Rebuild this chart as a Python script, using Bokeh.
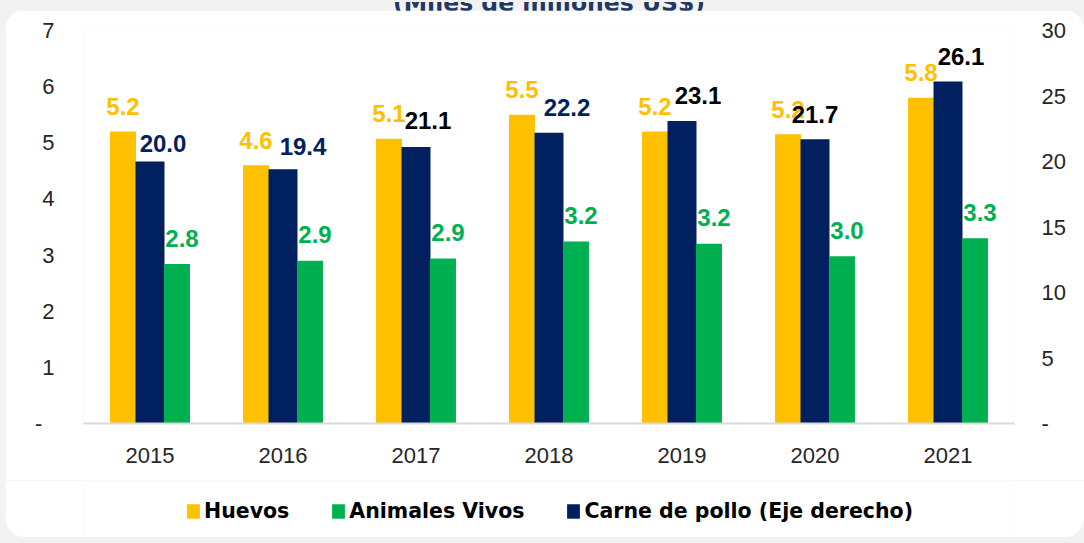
from bokeh.plotting import figure
from bokeh.models import (Range1d, FactorRange, LinearAxis, FixedTicker, Legend,
                          LegendItem, ColumnDataSource, Div)
from bokeh.layouts import column
from bokeh.transform import dodge
from bokeh.core.properties import value
from bokeh.embed import file_html
from bokeh.resources import INLINE

# ---- data ----
years = ["2015", "2016", "2017", "2018", "2019", "2020", "2021"]
huevos = [5.2, 4.6, 5.07, 5.5, 5.2, 5.15, 5.8]          # left axis
animales_vivos = [2.84, 2.9, 2.94, 3.24, 3.2, 2.98, 3.3]  # left axis
carne_pollo = [20.0, 19.4, 21.1, 22.2, 23.1, 21.7, 26.1]  # right axis
left_ticks = [0, 1, 2, 3, 4, 5, 6, 7]
right_ticks = [0, 5, 10, 15, 20, 25, 30]
title_text = "(Miles de millones US$)"
series_names = ["Huevos", "Animales Vivos", "Carne de pollo (Eje derecho)"]

# label styling (nudges in screen px, colours)
carne_label_dx = [13, 20, 12, 18, 16, 0, 13]
carne_label_dy = [-18, -23, -27, -25, -25, -25, -25]
carne_label_color = ["#002060", "#002060", "#000000", "#002060", "#000000", "#000000", "#000000"]

YELLOW = "#FFC000"
NAVY = "#002060"
GREEN = "#00B050"
PAGE_BG = "#F2F2F2"
TICK_COLOR = "#262626"

src = ColumnDataSource(dict(
    year=years,
    huevos=huevos,
    animales=animales_vivos,
    carne=carne_pollo,
    huevos_lbl=[f"{v:.1f}" for v in huevos],
    animales_lbl=[f"{v:.1f}" for v in animales_vivos],
    carne_lbl=[f"{v:.1f}" for v in carne_pollo],
    carne_dx=carne_label_dx,
    carne_dy=carne_label_dy,
    carne_col=carne_label_color,
))

# ---------------- main chart (top part of the white card) ----------------
p = figure(width=1079, height=470, x_range=FactorRange(*years),
           y_range=Range1d(0, 7), output_backend="svg", toolbar_location=None,
           min_border_left=78, min_border_right=70, min_border_top=20,
           min_border_bottom=57, margin=(0, 0, 0, 5),
           styles={"border-radius": "20px 20px 0 0", "overflow": "hidden"})
p.extra_y_ranges = {"right": Range1d(0, 30)}
p.outline_line_color = None
p.xgrid.visible = False
p.ygrid.visible = False
p.background_fill_color = "white"
p.border_fill_color = "white"

OFF = 0.203
r_h = p.vbar(x=dodge("year", -OFF, range=p.x_range), top="huevos", width=0.195,
             source=src, fill_color=YELLOW, line_color=None)
r_c = p.vbar(x=dodge("year", 0, range=p.x_range), top="carne", width=0.218,
             source=src, fill_color=NAVY, line_color=None, y_range_name="right")
r_a = p.vbar(x=dodge("year", OFF, range=p.x_range), top="animales", width=0.195,
             source=src, fill_color=GREEN, line_color=None)

LBL_FONT = value("Liberation Sans")
p.text(x=dodge("year", -OFF, range=p.x_range), y="huevos", text="huevos_lbl",
       source=src, text_align="center", text_baseline="middle", y_offset=-25,
       text_color=YELLOW, text_font=LBL_FONT, text_font_style="bold",
       text_font_size="24px")
p.text(x=dodge("year", OFF, range=p.x_range), y="animales", text="animales_lbl",
       source=src, text_align="center", text_baseline="middle", x_offset=5,
       y_offset=-26, text_color=GREEN, text_font=LBL_FONT,
       text_font_style="bold", text_font_size="24px")
p.text(x=dodge("year", 0, range=p.x_range), y="carne", text="carne_lbl",
       source=src, text_align="center", text_baseline="middle",
       x_offset="carne_dx", y_offset="carne_dy", text_color="carne_col",
       text_font=LBL_FONT, text_font_style="bold", text_font_size="24px",
       y_range_name="right")

# x axis
xa = p.xaxis[0]
xa.axis_line_color = "#D9D9D9"
xa.axis_line_width = 2
xa.major_tick_line_color = None
xa.minor_tick_line_color = None
xa.major_label_standoff = 18
xa.major_label_text_font = "Liberation Sans"
xa.major_label_text_font_size = "22px"
xa.major_label_text_color = TICK_COLOR

# left axis
ya = p.yaxis[0]
ya.ticker = FixedTicker(ticks=left_ticks)
ya.major_label_overrides = {0: "-\u00a0\u00a0"}
ya.axis_line_color = None
ya.major_tick_line_color = None
ya.minor_tick_line_color = None
ya.major_label_standoff = 23
ya.major_label_text_font = "Liberation Sans"
ya.major_label_text_font_size = "22px"
ya.major_label_text_color = TICK_COLOR

# right axis
ra = LinearAxis(y_range_name="right", ticker=FixedTicker(ticks=right_ticks))
ra.major_label_overrides = {0: "-"}
ra.axis_line_color = None
ra.major_tick_line_color = None
ra.minor_tick_line_color = None
ra.major_label_standoff = 21
ra.major_label_text_font = "Liberation Sans"
ra.major_label_text_font_size = "22px"
ra.major_label_text_color = TICK_COLOR
p.add_layout(ra, "right")

# ---------------- legend strip (bottom part of the white card) ----------------
# same series drawn into a view window that shows none of the bars;
# they only provide the legend swatches
pl = figure(width=1079, height=57, x_range=FactorRange(*years),
            y_range=Range1d(100, 101), output_backend="svg",
            toolbar_location=None, x_axis_location=None, y_axis_location=None,
            min_border=0, margin=(0, 0, 0, 5),
            styles={"border-radius": "0 0 20px 20px", "overflow": "hidden"})
pl.outline_line_color = None
pl.xgrid.visible = False
pl.ygrid.visible = False
pl.background_fill_color = "white"
pl.border_fill_color = "white"
lg_h = pl.vbar(x="year", top="huevos", width=0.2, source=src,
               fill_color=YELLOW, line_color=None)
lg_a = pl.vbar(x="year", top="animales", width=0.2, source=src,
               fill_color=GREEN, line_color=None)
lg_c = pl.vbar(x="year", top="carne", width=0.2, source=src,
               fill_color=NAVY, line_color=None)

legend = Legend(items=[
    LegendItem(label=series_names[0], renderers=[lg_h]),
    LegendItem(label=series_names[1], renderers=[lg_a]),
    LegendItem(label=series_names[2], renderers=[lg_c]),
], location=(102, 14), orientation="horizontal", glyph_width=16,
    glyph_height=18, label_standoff=3, spacing=41, padding=0, margin=0,
    border_line_color=None, background_fill_alpha=0,
    label_text_font="DejaVu Sans", label_text_font_style="bold",
    label_text_font_size="20.5px", label_text_color="#000000")
pl.add_layout(legend)

title_div = Div(
    text=('<div style="position:relative;width:1084px;height:10px;overflow:hidden;">'
          '<div style="position:absolute;left:7px;width:1084px;bottom:-3px;'
          'text-align:center;white-space:nowrap;line-height:23px;'
          'font-family:\'DejaVu Sans\';font-weight:bold;font-size:23.5px;'
          'color:#1F3864;">' + title_text + '</div></div>'),
    width=1084, height=10, margin=0)

page = column(title_div, p, pl, width=1084, height=543,
              styles={"background-color": PAGE_BG})

html = file_html(page, INLINE)
open("out.html", "w").write(html)
